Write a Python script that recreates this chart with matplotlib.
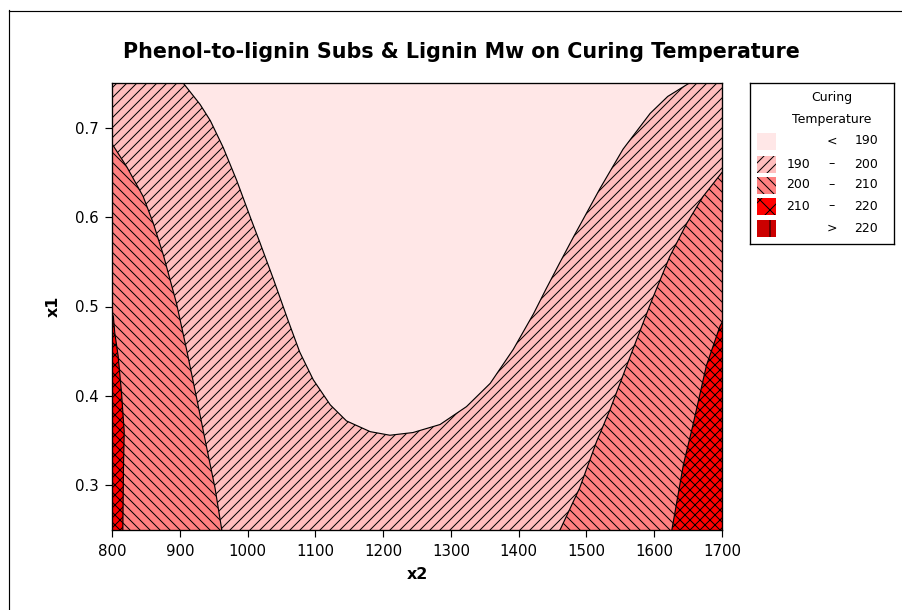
import numpy as np
import matplotlib
matplotlib.use("Agg")
import matplotlib.pyplot as plt
from matplotlib.patches import Rectangle
from matplotlib.lines import Line2D

plt.rcParams['font.family'] = ['DejaVu Sans']
plt.rcParams['hatch.linewidth'] = 0.6

# contour boundaries (x2, x1)
t190_x2 = [905, 930, 945, 964, 984, 1004, 1018, 1038, 1060, 1077, 1097, 1122, 1146, 1181, 1210,
           1244, 1284, 1323, 1358, 1392, 1422, 1440, 1460, 1481, 1520, 1554, 1594, 1620, 1652]
t190_x1 = [0.750, 0.726, 0.708, 0.678, 0.641, 0.600, 0.572, 0.531, 0.484, 0.449, 0.418, 0.390, 0.372, 0.360, 0.356,
           0.359, 0.368, 0.388, 0.414, 0.452, 0.492, 0.519, 0.548, 0.578, 0.632, 0.676, 0.716, 0.735, 0.750]

t200_left_x2 = [800, 822, 846, 861, 876, 895, 910, 925, 940, 952, 962]
t200_left_x1 = [0.682, 0.656, 0.623, 0.593, 0.557, 0.504, 0.452, 0.397, 0.341, 0.297, 0.250]
t200_right_x2 = [1461, 1490, 1515, 1535, 1552, 1566, 1597, 1623, 1648, 1672, 1700]
t200_right_x1 = [0.250, 0.297, 0.349, 0.385, 0.419, 0.447, 0.508, 0.556, 0.593, 0.623, 0.650]

t210_left_x2 = [816, 817, 818, 814, 809, 804, 802, 800]
t210_left_x1 = [0.250, 0.323, 0.360, 0.404, 0.445, 0.471, 0.489, 0.492]
t210_right_x2 = [1626, 1643, 1657, 1677, 1697, 1700]
t210_right_x1 = [0.250, 0.323, 0.367, 0.434, 0.478, 0.482]

x2_ticks = list(range(800, 1701, 100))
x1_ticks = [0.3, 0.4, 0.5, 0.6, 0.7]

leg_lo = ['', '190', '200', '210', '']
leg_mid = ['<', '–', '–', '–', '>']
leg_hi = ['190', '200', '210', '220', '220']
colors = ['#FFE7E7', '#FFBDBD', '#FF8080', '#FF0000', '#CC0000']
hatches = [None, '////', '\\\\\\\\', 'xxxx', '||']
leg_hatches = [None, '////', '\\\\\\\\', 'xx', '|']

fig = plt.figure(figsize=(902 / 120, 610 / 120), dpi=120)
ax = fig.add_axes([112 / 902, 80 / 610, 610 / 902, 447 / 610])

# bottom layer: 210-220 everywhere
ax.fill([790, 1710, 1710, 790], [0.24, 0.24, 0.76, 0.76], facecolor=colors[3],
        edgecolor='black', hatch=hatches[3], linewidth=0)

# T < 210
xs = t210_left_x2 + [790, 790, 1710, 1710] + t210_right_x2[::-1]
ys = t210_left_x1 + [0.492, 0.76, 0.76, 0.482] + t210_right_x1[::-1]
ax.fill(xs, ys, facecolor=colors[2], edgecolor='black', hatch=hatches[2], linewidth=0)

# T < 200
xs = t200_left_x2 + t200_right_x2 + [1710, 1710, 790, 790]
ys = t200_left_x1 + t200_right_x1 + [0.65, 0.76, 0.76, 0.682]
ax.fill(xs, ys, facecolor=colors[1], edgecolor='black', hatch=hatches[1], linewidth=0)

# T < 190
xs = t190_x2 + [1660, 900]
ys = t190_x1 + [0.76, 0.76]
ax.fill(xs, ys, facecolor=colors[0], linewidth=0)

for bx, by in [(t190_x2, t190_x1), (t200_left_x2, t200_left_x1), (t200_right_x2, t200_right_x1),
               (t210_left_x2, t210_left_x1), (t210_right_x2, t210_right_x1)]:
    ax.plot(bx, by, color='black', lw=0.7)

ax.set_xlim(800, 1700)
ax.set_ylim(0.25, 0.75)
ax.set_xticks(x2_ticks)
ax.set_yticks(x1_ticks)
ax.set_yticklabels(['%.1f' % v for v in x1_ticks])
ax.tick_params(direction='out', length=4.2, width=0.7, labelsize=9, pad=4, colors='black')
for s in ax.spines.values():
    s.set_linewidth(0.8)
ax.set_xlabel('x2', fontsize=9.5, fontweight='bold', labelpad=5)
ax.set_ylabel('x1', fontsize=9.5, fontweight='bold', labelpad=8)

fig.text(461 / 902, 1 - 52 / 610, 'Phenol-to-lignin Subs & Lignin Mw on Curing Temperature',
         ha='center', va='center', fontsize=12.4, fontweight='bold')

# legend box
lg = fig.add_axes([750 / 902, (610 - 244) / 610, 144 / 902, 161 / 610])
lg.set_xlim(0, 144)
lg.set_ylim(161, 0)
lg.set_xticks([])
lg.set_yticks([])
for s in lg.spines.values():
    s.set_linewidth(0.8)
lg.text(82, 15, 'Curing', ha='center', va='center', fontsize=7.5)
lg.text(82, 37, 'Temperature', ha='center', va='center', fontsize=7.5)
row_y = [58, 81, 102, 123, 145]
for i in range(5):
    lg.add_patch(Rectangle((7, row_y[i] - 8.5), 19, 17, facecolor=colors[i], edgecolor='black',
                           hatch=leg_hatches[i], linewidth=0))
    lg.text(60, row_y[i], leg_lo[i], ha='right', va='center', fontsize=7.5)
    lg.text(82, row_y[i], leg_mid[i], ha='center', va='center', fontsize=7.5)
    lg.text(128, row_y[i], leg_hi[i], ha='right', va='center', fontsize=7.5)

# outer graph frame
fig.add_artist(Line2D([8.5 / 902, 8.5 / 902], [0, 1 - 10 / 610], color='black', lw=0.7))
fig.add_artist(Line2D([8.5 / 902, 1], [1 - 10.5 / 610, 1 - 10.5 / 610], color='black', lw=0.7))

fig.savefig('out.png', dpi=120)
